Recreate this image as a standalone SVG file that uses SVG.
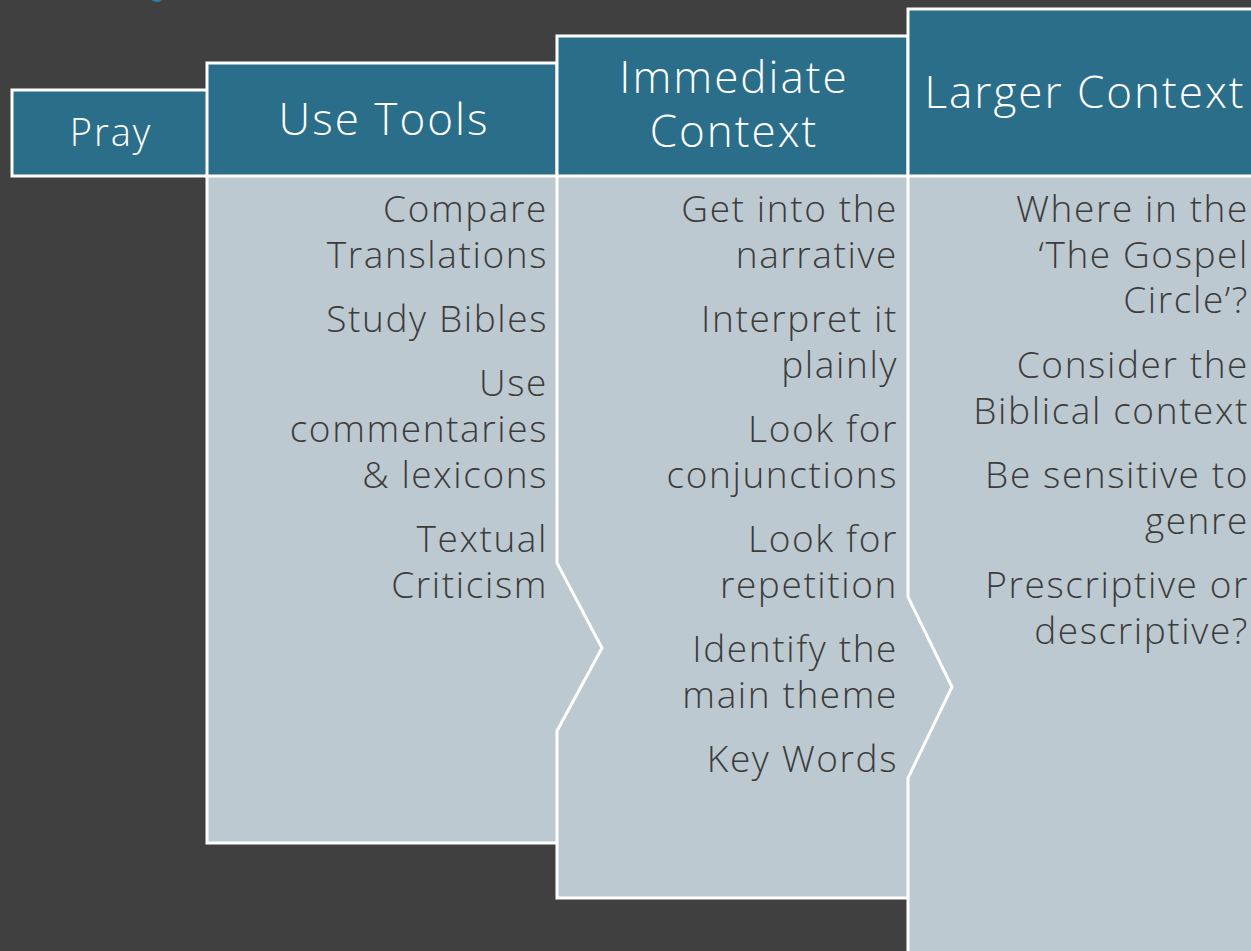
<svg xmlns="http://www.w3.org/2000/svg" width="1251" height="951" viewBox="0 0 1251 951">
<style>
.hdr{fill:#2a6e8a;stroke:#fff;stroke-width:3}
.body{fill:#bdc9d0;stroke:none}
.edge{fill:none;stroke:#fff;stroke-width:3}
.ht{font-family:"Open Sans","Liberation Sans",sans-serif;font-weight:300;fill:#fff;text-anchor:middle;letter-spacing:2px}
.bt{font-family:"Open Sans","Liberation Sans",sans-serif;font-weight:300;fill:#3c3c3c;text-anchor:end;font-size:37px;letter-spacing:1.6px}
</style>
<rect x="0" y="0" width="1251" height="951" fill="#404040"/>
<circle cx="157" cy="-6" r="8" fill="#2b7fa8"/>
<g id="pray">
<rect class="hdr" x="12" y="90" width="196" height="86"/>
<text class="ht" x="111" y="146" font-size="38">Pray</text>
</g>
<g id="use-tools">
<polygon class="body" points="207,176 557,176 557,563 602,648 557,731 557,843 207,843"/>
<polyline class="edge" points="207,176 207,843 557,843"/>
<rect class="hdr" x="207" y="63" width="350" height="113"/>
<text class="ht" x="384" y="135" font-size="44">Use Tools</text>
<text class="bt" x="548" y="222">Compare</text>
<text class="bt" x="548" y="268">Translations</text>
<text class="bt" x="548" y="332">Study Bibles</text>
<text class="bt" x="548" y="396">Use</text>
<text class="bt" x="548" y="442">commentaries</text>
<text class="bt" x="548" y="488">&amp; lexicons</text>
<text class="bt" x="548" y="552">Textual</text>
<text class="bt" x="548" y="598">Criticism</text>
</g>
<g id="immediate-context">
<polygon class="body" points="557,176 908,176 908,597 952,687 908,778 908,898 557,898 557,731 602,648 557,563"/>
<polyline class="edge" points="557,176 557,563 602,648 557,731 557,898 908,898"/>
<rect class="hdr" x="557" y="36" width="351" height="140"/>
<text class="ht" x="734" y="93" font-size="44">Immediate</text>
<text class="ht" x="734" y="147" font-size="44">Context</text>
<text class="bt" x="898" y="222">Get into the</text>
<text class="bt" x="898" y="268">narrative</text>
<text class="bt" x="898" y="332">Interpret it</text>
<text class="bt" x="898" y="378">plainly</text>
<text class="bt" x="898" y="442">Look for</text>
<text class="bt" x="898" y="488">conjunctions</text>
<text class="bt" x="898" y="552">Look for</text>
<text class="bt" x="898" y="598">repetition</text>
<text class="bt" x="898" y="662">Identify the</text>
<text class="bt" x="898" y="708">main theme</text>
<text class="bt" x="898" y="772">Key Words</text>
</g>
<g id="larger-context">
<polygon class="body" points="908,176 1260,176 1260,960 908,960 908,778 952,687 908,597"/>
<polyline class="edge" points="908,176 908,597 952,687 908,778 908,960"/>
<rect class="hdr" x="908" y="9" width="360" height="167"/>
<text class="ht" x="1085" y="108" font-size="44">Larger Context</text>
<text class="bt" x="1249" y="222">Where in the</text>
<text class="bt" x="1249" y="268">‘The Gospel</text>
<text class="bt" x="1249" y="313">Circle’?</text>
<text class="bt" x="1249" y="378">Consider the</text>
<text class="bt" x="1249" y="424">Biblical context</text>
<text class="bt" x="1249" y="488">Be sensitive to</text>
<text class="bt" x="1249" y="534">genre</text>
<text class="bt" x="1249" y="598">Prescriptive or</text>
<text class="bt" x="1249" y="644">descriptive?</text>
</g>
</svg>
